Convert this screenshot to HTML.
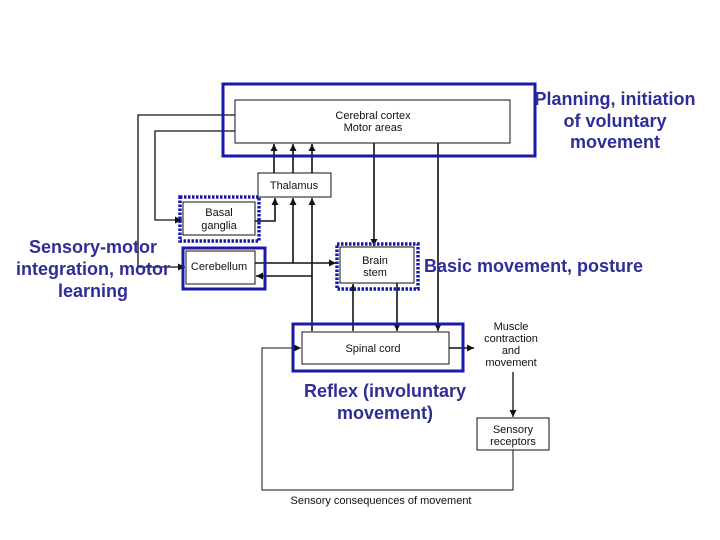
<!DOCTYPE html>
<html><head><meta charset="utf-8"><style>
html,body{margin:0;padding:0;background:#fff;}
svg{display:block;}
.t{font-family:"Liberation Sans",sans-serif;font-size:11px;fill:#111;}
.b{font-family:"Liberation Sans",sans-serif;font-size:18px;font-weight:bold;fill:#2e2e96;}
</style></head><body>
<svg width="720" height="540" viewBox="0 0 720 540" xmlns="http://www.w3.org/2000/svg">
<defs>
<marker id="a" viewBox="0 0 10 10" refX="10" refY="5" markerWidth="7" markerHeight="7" orient="auto-start-reverse" markerUnits="userSpaceOnUse"><path d="M0,0 L10,5 L0,10 z" fill="#111"/></marker>
</defs>
<rect width="720" height="540" fill="#fff"/>
<g fill="none" stroke="#111" stroke-width="1">
<rect x="235" y="100" width="275" height="43" fill="#fff"/>
<rect x="258" y="173" width="73" height="24"/>
<rect x="183" y="202" width="72" height="33"/>
<rect x="186" y="251" width="69" height="33"/>
<rect x="340" y="247" width="74" height="36"/>
<rect x="302" y="332" width="147" height="32"/>
<rect x="477" y="418" width="72" height="32"/>
</g>
<g stroke="#111" stroke-width="1.6" fill="none">
<line x1="274" y1="173" x2="274" y2="144" marker-end="url(#a)"/>
<line x1="293" y1="173" x2="293" y2="144" marker-end="url(#a)"/>
<line x1="312" y1="173" x2="312" y2="144" marker-end="url(#a)"/>
<polyline points="255,221 275,221 275,198" marker-end="url(#a)"/>
<polyline points="255,263 336,263" marker-end="url(#a)"/>
<line x1="293" y1="263" x2="293" y2="198" marker-end="url(#a)"/>
<line x1="312" y1="331" x2="312" y2="198" marker-end="url(#a)"/>
<line x1="312" y1="276" x2="256" y2="276" marker-end="url(#a)"/>
<line x1="374" y1="143" x2="374" y2="246" marker-end="url(#a)"/>
<line x1="438" y1="143" x2="438" y2="331" marker-end="url(#a)"/>
<line x1="397" y1="283" x2="397" y2="331" marker-end="url(#a)"/>
<line x1="353" y1="331" x2="353" y2="284" marker-end="url(#a)"/>
<polyline points="235,115 138,115 138,267 185,267" stroke-width="1.3" marker-end="url(#a)"/>
<polyline points="235,131 155,131 155,220 182,220" stroke-width="1.3" marker-end="url(#a)"/>
<line x1="449" y1="348" x2="474" y2="348" marker-end="url(#a)"/>
<line x1="513" y1="372" x2="513" y2="417" stroke-width="1.3" marker-end="url(#a)"/>
<polyline points="513,450 513,490 262,490 262,348 301,348" stroke-width="1" marker-end="url(#a)"/>
</g>
<g fill="none" stroke="#1a1aa8" stroke-width="3">
<rect x="223" y="84" width="312" height="72"/>
<rect x="183" y="248" width="82" height="41"/>
<rect x="293" y="324" width="170" height="47"/>
</g>
<g fill="none" stroke="#1a1aa8" stroke-width="3.5" stroke-dasharray="2.5,1.5">
<rect x="180" y="197" width="79" height="44"/>
<rect x="337" y="244" width="81" height="45"/>
</g>
<g class="t" text-anchor="middle">
<text x="373" y="119">Cerebral cortex</text>
<text x="373" y="131">Motor areas</text>
<text x="294" y="189">Thalamus</text>
<text x="219" y="216">Basal</text>
<text x="219" y="229">ganglia</text>
<text x="219" y="270">Cerebellum</text>
<text x="375" y="264">Brain</text>
<text x="375" y="276">stem</text>
<text x="373" y="352">Spinal cord</text>
<text x="511" y="330">Muscle</text>
<text x="511" y="342">contraction</text>
<text x="511" y="354">and</text>
<text x="511" y="366">movement</text>
<text x="513" y="433">Sensory</text>
<text x="513" y="445">receptors</text>
<text x="381" y="504">Sensory consequences of movement</text>
</g>
<g class="b" text-anchor="middle">
<text x="615" y="105">Planning, initiation</text>
<text x="615" y="127">of voluntary</text>
<text x="615" y="148">movement</text>
<text x="93" y="253">Sensory-motor</text>
<text x="93" y="275">integration, motor</text>
<text x="93" y="297">learning</text>
<text x="385" y="397">Reflex (involuntary</text>
<text x="385" y="419">movement)</text>
</g>
<text class="b" x="424" y="272">Basic movement, posture</text>
</svg>
</body></html>
